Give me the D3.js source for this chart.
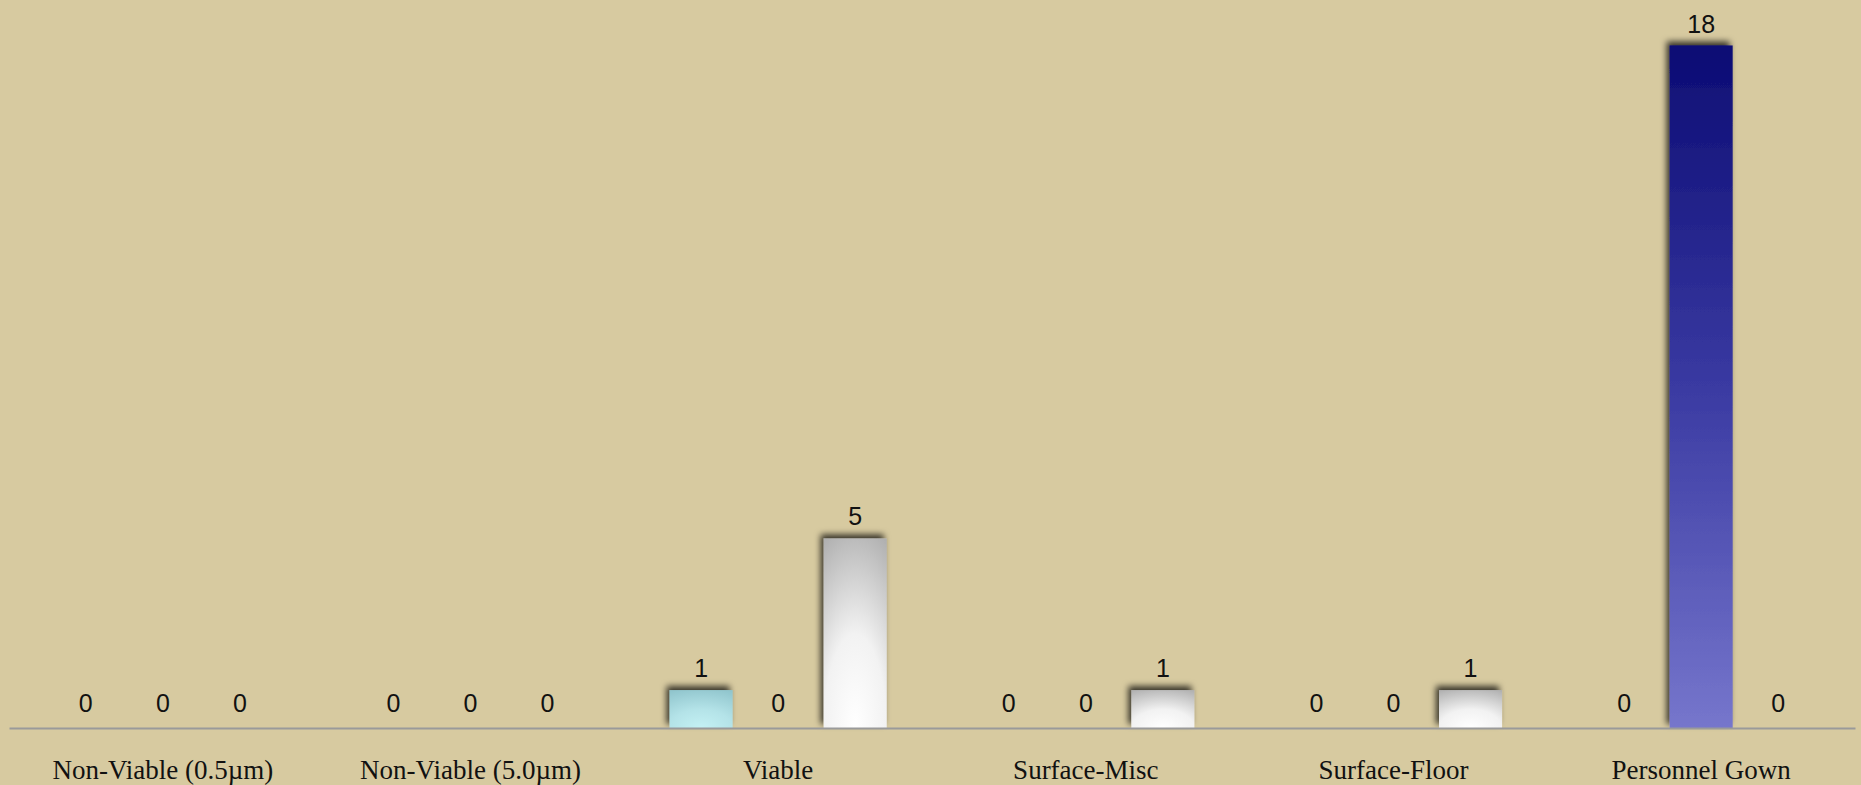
<!DOCTYPE html>
<html>
<head>
<meta charset="utf-8">
<script src="https://cdn.jsdelivr.net/npm/d3@7"></script>
<style>
  html, body { margin: 0; padding: 0; background: #d7caa0; }
  svg { display: block; }
</style>
</head>
<body>
<svg id="chart" width="1861" height="785"></svg>
<script>
// ---- data ----
const categories = ["Non-Viable (0.5µm)", "Non-Viable (5.0µm)", "Viable", "Surface-Misc", "Surface-Floor", "Personnel Gown"];
const seriesNames = ["Series A", "Series B", "Series C"];
const seriesA = [0, 0, 1, 0, 0, 0];
const seriesB = [0, 0, 0, 0, 0, 18];
const seriesC = [0, 0, 5, 1, 1, 0];
const yMax = 18;

const seriesValues = [seriesA, seriesB, seriesC];
const seriesStops = [
  ["#c4f1f4", "#b4e3e8", "#8fc4cc"],
  ["#7676cc", "#3a3aa2", "#0c0c74"],
  ["#ffffff", "#f2f2f2", "#b0b0b0"]
];

const W = 1861, H = 785;
const svg = d3.select("#chart");
svg.append("rect").attr("width", W).attr("height", H).attr("fill", "#d7caa0");

const defs = svg.append("defs");
const filt = defs.append("filter").attr("id", "shadow")
  .attr("x", "-30%").attr("y", "-30%").attr("width", "160%").attr("height", "160%");
filt.append("feDropShadow").attr("dx", -3).attr("dy", -4).attr("stdDeviation", 3)
  .attr("flood-color", "#000").attr("flood-opacity", 0.75);

seriesStops.forEach((st, i) => {
  let g;
  if (i === 1) {
    g = defs.append("linearGradient").attr("id", "grad" + i)
      .attr("x1", 0).attr("y1", 1).attr("x2", 0).attr("y2", 0);
  } else {
    g = defs.append("radialGradient").attr("id", "grad" + i)
      .attr("cx", "50%").attr("cy", "100%").attr("r", "110%").attr("fx", "50%").attr("fy", "100%");
  }
  g.append("stop").attr("offset", "0%").attr("stop-color", st[0]);
  g.append("stop").attr("offset", i === 1 ? "50%" : "45%").attr("stop-color", st[1]);
  g.append("stop").attr("offset", "100%").attr("stop-color", st[2]);
});

const axisY = 728;
const x0 = d3.scaleBand().domain(categories).range([9, 1855]).padding(0);
const x1 = d3.scaleBand().domain(seriesNames).range([0, x0.bandwidth()])
  .paddingInner(14 / 77).paddingOuter(0.5875);
const y = d3.scaleLinear().domain([0, yMax]).range([axisY, 45.5]);

const data = [];
categories.forEach((c, ci) => {
  seriesNames.forEach((s, si) => {
    data.push({ cat: c, ser: s, si: si, v: seriesValues[si][ci] });
  });
});

// bars
svg.append("g").selectAll("rect").data(data.filter(d => d.v > 0)).join("rect")
  .attr("x", d => x0(d.cat) + x1(d.ser))
  .attr("y", d => y(d.v))
  .attr("width", x1.bandwidth())
  .attr("height", d => y(0) - y(d.v))
  .attr("fill", d => "url(#grad" + d.si + ")")
  .attr("filter", "url(#shadow)");

// value labels
svg.append("g").selectAll("text").data(data).join("text")
  .attr("x", d => x0(d.cat) + x1(d.ser) + x1.bandwidth() / 2)
  .attr("y", d => y(d.v) - (d.v ? 13 : 16))
  .attr("text-anchor", "middle")
  .attr("font-family", "'Liberation Sans', Arial, sans-serif")
  .attr("font-size", 25)
  .attr("fill", "#111")
  .text(d => d.v);

// x axis
const ax = svg.append("g").attr("transform", `translate(0,${axisY})`)
  .call(d3.axisBottom(x0).tickSize(0).tickSizeOuter(0).tickPadding(32));
ax.select(".domain").attr("stroke", "#9a9a9a").attr("stroke-width", 2);
ax.selectAll("text")
  .attr("font-family", "'Liberation Serif', 'Times New Roman', serif")
  .attr("font-size", 27)
  .attr("fill", "#111");
</script>
</body>
</html>
